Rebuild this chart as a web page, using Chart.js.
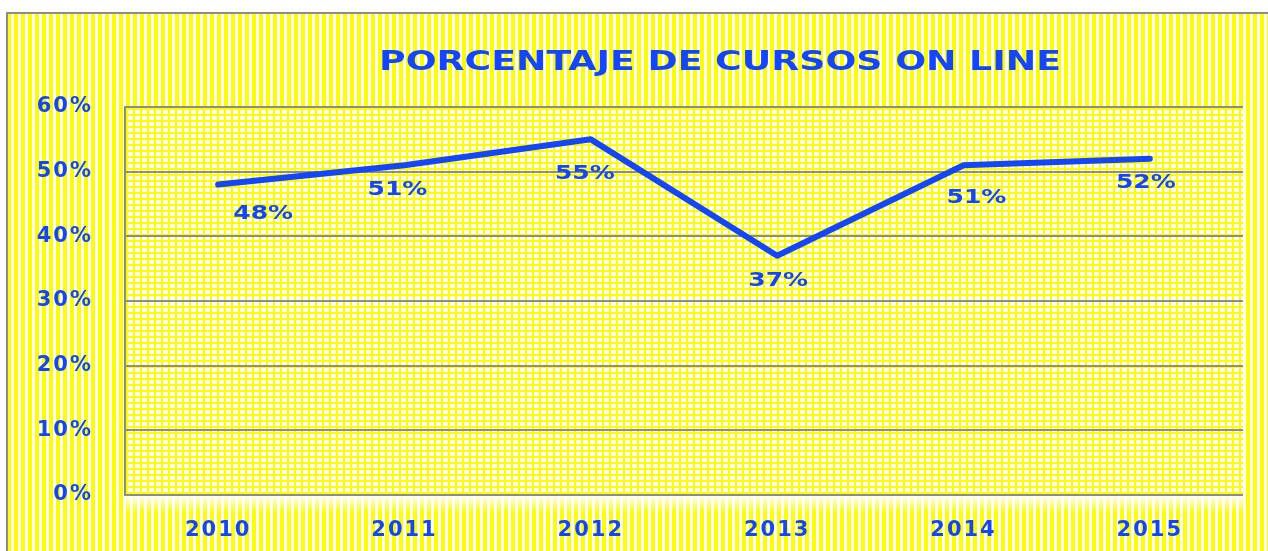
<!DOCTYPE html>
<html><head><meta charset="utf-8">
<script src="https://cdn.jsdelivr.net/npm/chart.js@4.4.1/dist/chart.umd.min.js"></script>
<style>html,body{margin:0;padding:0;background:#fff;overflow:hidden}#wrap{width:1268px;height:551px}</style>
</head><body><div id="wrap"><canvas id="c" width="1268" height="551"></canvas></div>
<script>
const chartTitle = 'PORCENTAJE DE CURSOS ON LINE';
const years = ['2010', '2011', '2012', '2013', '2014', '2015'];
const percentages = [48, 51, 55, 37, 51, 52];
const yMin = 0, yMax = 60, yStep = 10;

const BLUE = '#1446ff';
const GRAY = '#8c8c8c';
const YELLOW = '#ffff00';
const FONT = 'DejaVu Sans';
const SPACING = '2px';

function makeStripes() {
  const p = document.createElement('canvas'); p.width = 7; p.height = 4;
  const g = p.getContext('2d');
  g.fillStyle = '#fff'; g.fillRect(0, 0, 7, 4);
  g.fillStyle = YELLOW; g.fillRect(0, 0, 4, 4);
  return p;
}
function makeGrid() {
  const p = document.createElement('canvas'); p.width = 7; p.height = 6;
  const g = p.getContext('2d');
  g.fillStyle = '#fff'; g.fillRect(0, 0, 7, 6);
  g.fillStyle = YELLOW; g.fillRect(0, 0, 2, 6); g.fillRect(0, 0, 7, 2);
  return p;
}

const bgPlugin = {
  id: 'bg',
  beforeLayout(chart) { chart.ctx.letterSpacing = SPACING; },
  beforeDraw(chart) {
    const ctx = chart.ctx, W = chart.width, H = chart.height, a = chart.chartArea;
    ctx.save();
    ctx.letterSpacing = '0px';
    ctx.fillStyle = '#fff'; ctx.fillRect(0, 0, W, H);
    ctx.fillStyle = ctx.createPattern(makeStripes(), 'repeat');
    ctx.fillRect(8, 14, W - 8, H - 14);
    ctx.fillStyle = GRAY;
    ctx.fillRect(6, 12, 2, H - 12);
    ctx.fillRect(6, 12, W - 6, 2);
    ctx.fillStyle = ctx.createPattern(makeGrid(), 'repeat');
    ctx.fillRect(a.left, a.top, a.right - a.left, a.bottom - a.top);
    const gr = ctx.createLinearGradient(0, a.bottom, 0, a.bottom + 18);
    gr.addColorStop(0, 'rgba(255,255,255,1)');
    gr.addColorStop(1, 'rgba(255,255,255,0)');
    ctx.fillStyle = gr;
    ctx.fillRect(a.left, a.bottom, a.right - a.left, 18);
    ctx.font = 'bold 27px "' + FONT + '"';
    ctx.fillStyle = BLUE;
    ctx.textAlign = 'center'; ctx.textBaseline = 'middle';
    const w = ctx.measureText(chartTitle).width;
    ctx.translate(720, 63);
    ctx.scale(682 / w, 1);
    ctx.fillText(chartTitle, 0, 0);
    ctx.restore();
    ctx.letterSpacing = SPACING;
  }
};

const labelPlugin = {
  id: 'pointLabels',
  afterDatasetsDraw(chart, args, opts) {
    const ctx = chart.ctx;
    const meta = chart.getDatasetMeta(0);
    ctx.save();
    ctx.letterSpacing = '0px';
    ctx.font = 'bold 20px "' + FONT + '"';
    ctx.fillStyle = BLUE;
    ctx.textAlign = 'center'; ctx.textBaseline = 'middle';
    meta.data.forEach((pt, i) => {
      const off = opts.offsets[i] || [0, 28];
      ctx.save();
      ctx.translate(pt.x + off[0], pt.y + off[1]);
      ctx.scale(1.25, 1);
      ctx.fillText(percentages[i] + '%', 0, 0);
      ctx.restore();
    });
    ctx.restore();
  }
};

new Chart(document.getElementById('c'), {
  type: 'line',
  data: {
    labels: years,
    datasets: [{
      data: percentages,
      borderColor: BLUE,
      borderWidth: 6,
      borderCapStyle: 'round',
      borderJoinStyle: 'round',
      pointRadius: 0,
      tension: 0,
      fill: false
    }]
  },
  options: {
    responsive: false,
    animation: false,
    devicePixelRatio: 1,
    layout: { padding: { left: 0, top: 107, right: 25, bottom: 0 } },
    plugins: {
      legend: { display: false },
      title: { display: false },
      tooltip: { enabled: false },
      pointLabels: { offsets: [[45, 29], [-7, 25], [-6, 34], [1, 25], [13, 33], [-4, 24]] }
    },
    scales: {
      x: {
        offset: true,
        grid: { display: false },
        border: { display: false },
        ticks: { color: BLUE, font: { family: FONT, size: 21, weight: 'bold' }, padding: 15, maxRotation: 0 },
        afterFit(s) { s.height = 56; }
      },
      y: {
        min: yMin, max: yMax,
        grid: { color: GRAY, lineWidth: 2, drawTicks: false },
        border: { display: true, color: GRAY, width: 2 },
        ticks: { stepSize: yStep, color: BLUE, font: { family: FONT, size: 21, weight: 'bold' }, padding: 32,
                 callback: v => v + '%' },
        afterFit(s) { s.width = 125; }
      }
    }
  },
  plugins: [bgPlugin, labelPlugin]
});
</script>
</body></html>
